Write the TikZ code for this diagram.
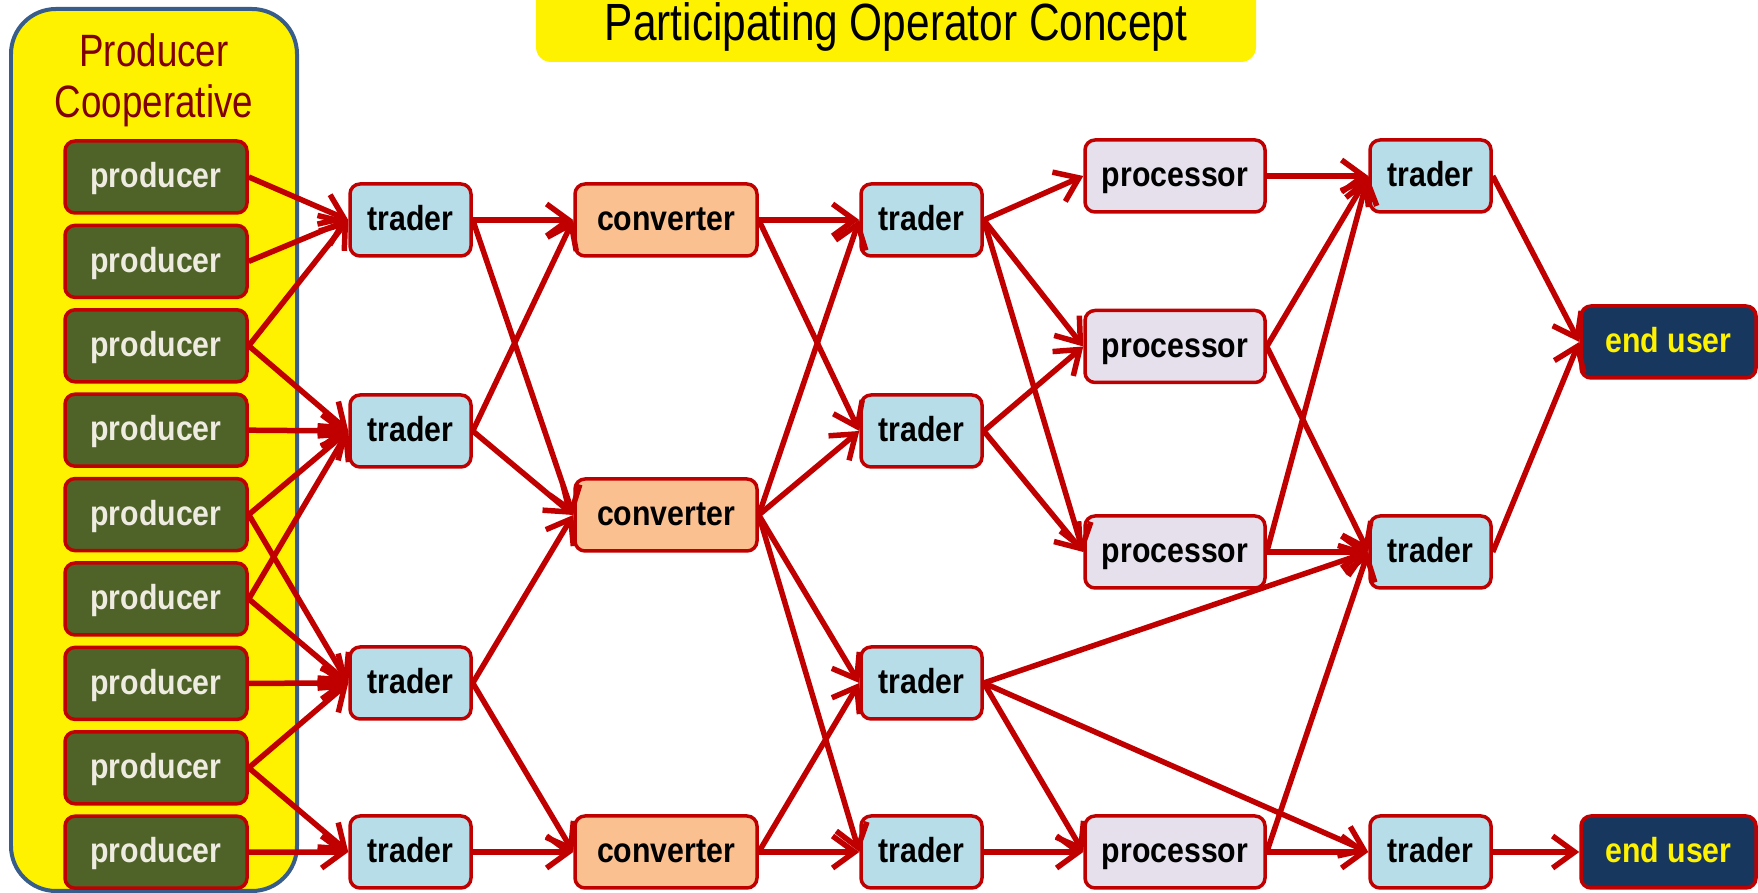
\documentclass[tikz,border=0pt]{standalone}
\usepackage{fontspec}
\setmainfont{Liberation Sans}
\newfontfamily\narrowfont[FakeStretch=0.81]{Liberation Sans}
\newfontfamily\boxfont[FakeStretch=0.87]{Liberation Sans}
\usetikzlibrary{arrows.meta}
\definecolor{linkred}{RGB}{192,0,0}
\definecolor{producerfill}{RGB}{79,98,40}
\definecolor{producertext}{RGB}{238,236,225}
\definecolor{traderfill}{RGB}{183,222,232}
\definecolor{converterfill}{RGB}{250,192,144}
\definecolor{processorfill}{RGB}{230,224,236}
\definecolor{userfill}{RGB}{23,55,94}
\definecolor{coopborder}{RGB}{56,93,138}
\definecolor{coopred}{RGB}{128,0,0}

\tikzset{
  box/.style={draw=linkred, line width=0.035cm, rounded corners=0.1cm,
              minimum height=0.72cm, inner sep=0pt,
              text height=1.6ex, text depth=0.45ex,
              font=\boxfont\bfseries\fontsize{9.9}{11}\selectfont},
  producer/.style={box, fill=producerfill, text=producertext, minimum width=1.82cm},
  trader/.style={box, fill=traderfill, text=black, minimum width=1.21cm},
  converter/.style={box, fill=converterfill, text=black, minimum width=1.82cm},
  processor/.style={box, fill=processorfill, text=black, minimum width=1.8cm},
  enduser/.style={box, fill=userfill, text=yellow, minimum width=1.75cm},
  flow/.style={draw=linkred, line width=0.055cm,
               -{Straight Barb[length=0.22cm,width=0.32cm]}}
}

\begin{document}
\begin{tikzpicture}
    \useasboundingbox (0,0) rectangle (17.58,-8.93);

    % cooperative frame and title banner
    \draw[fill=yellow, draw=coopborder, line width=0.04cm, rounded corners=0.45cm]
        (0.11,-0.09) rectangle (2.97,-8.91);
    \fill[yellow, rounded corners=0.15cm] (5.36,0.3) rectangle (12.56,-0.62);
    \node[font=\narrowfont\fontsize{14.9}{16}\selectfont] (title) at (8.96,-0.27)
        {Participating Operator Concept};
    \node[font=\narrowfont\fontsize{12.9}{14.5}\selectfont, text=coopred, align=center]
        (coop) at (1.54,-0.80) {Producer\\Cooperative};

    % producers
    \foreach \i in {1,...,9}
        \node[producer] (p\i) at (1.56,{-1.77-0.844*(\i-1)}) {producer};

    % first traders
    \node[trader] (ta1) at (4.105,-2.20) {trader};
    \node[trader] (ta2) at (4.105,-4.31) {trader};
    \node[trader] (ta3) at (4.105,-6.83) {trader};
    \node[trader] (ta4) at (4.105,-8.52) {trader};

    % converters
    \node[converter] (c1) at (6.66,-2.20) {converter};
    \node[converter] (c2) at (6.66,-5.15) {converter};
    \node[converter] (c3) at (6.66,-8.52) {converter};

    % second traders
    \node[trader] (tb1) at (9.215,-2.20) {trader};
    \node[trader] (tb2) at (9.215,-4.31) {trader};
    \node[trader] (tb3) at (9.215,-6.83) {trader};
    \node[trader] (tb4) at (9.215,-8.52) {trader};

    % processors
    \node[processor] (pr1) at (11.75,-1.76) {processor};
    \node[processor] (pr2) at (11.75,-3.465) {processor};
    \node[processor] (pr3) at (11.75,-5.52) {processor};
    \node[processor] (pr4) at (11.75,-8.52) {processor};

    % last traders and end users
    \node[trader] (tc1) at (14.305,-1.76) {trader};
    \node[trader] (tc2) at (14.305,-5.52) {trader};
    \node[trader] (tc3) at (14.305,-8.52) {trader};
    \node[enduser] (u1) at (16.685,-3.42) {end user};
    \node[enduser] (u2) at (16.685,-8.52) {end user};

    % flows
    \foreach \a/\b in {p1/ta1, p2/ta1, p3/ta1, p3/ta2, p4/ta2, p5/ta2, p5/ta3,
                       p6/ta2, p6/ta3, p7/ta3, p8/ta3, p8/ta4, p9/ta4,
                       ta1/c1, ta1/c2, ta2/c1, ta2/c2, ta3/c2, ta3/c3, ta4/c3,
                       c1/tb1, c1/tb2, c2/tb1, c2/tb2, c2/tb3, c2/tb4, c3/tb3, c3/tb4,
                       tb1/pr1, tb1/pr2, tb1/pr3, tb2/pr2, tb2/pr3,
                       tb3/tc2, tb3/pr4, tb3/tc3, tb4/pr4,
                       pr1/tc1, pr2/tc1, pr2/tc2, pr3/tc1, pr3/tc2, pr4/tc2, pr4/tc3,
                       tc1/u1, tc2/u1, tc3/u2}
        \draw[flow] (\a.east) -- (\b.west);
\end{tikzpicture}
\end{document}
